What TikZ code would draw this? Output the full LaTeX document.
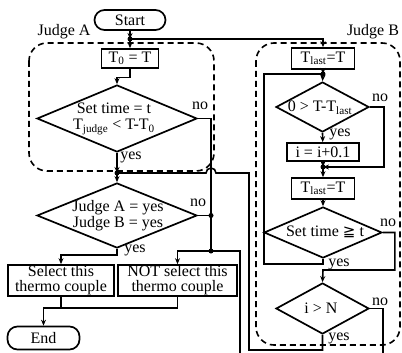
\documentclass[tikz,border=0pt]{standalone}
\usepackage{fontspec}
\setmainfont{Liberation Serif}
\newfontfamily\symfont{DejaVu Sans}
\usetikzlibrary{shapes.geometric,arrows.meta}

\begin{document}
\begin{tikzpicture}[x=1pt,y=-1pt,
  every node/.style={font=\fontsize{16}{15}\selectfont, inner sep=0pt},
  flow/.style={line width=1.6pt},
  arr/.style={flow, -{Stealth[length=6pt,width=5pt]}},
  proc/.style={draw, line width=1.7pt, fill=white},
  term/.style={draw, line width=1.7pt, rounded corners=10pt},
  dia/.style={draw, diamond, line width=1.7pt},
  grp/.style={line width=1.6pt, dash pattern=on 6pt off 4pt, rounded corners=18pt},
  jdot/.style={circle, fill=black, minimum size=5pt, inner sep=0pt},
  lbl/.style={align=center}]

\useasboundingbox (0,0) rectangle (402,353);

% group frames
\draw[grp] (29,43) rectangle (214,171);
\draw[grp] (256,43) rectangle (400,345);
\node[lbl] (labA) at (64,32) {Judge A};
\node[lbl] (labB) at (373,32) {Judge B};

% terminals and boxes
\node[term, minimum width=71, minimum height=20] (start) at (130,20) {Start};
\node[term, minimum width=72, minimum height=23] (endt) at (43.5,338) {End};
\node[proc, minimum width=57, minimum height=19] (t0) at (130,58.5) {T\textsubscript{0} = T};
\node[proc, minimum width=106, minimum height=31, align=center] (sel) at (61,280.5)
  {Select this\\thermo couple};
\node[proc, minimum width=119, minimum height=31, align=center] (notsel) at (177.5,280.5)
  {NOT select this\\thermo couple};
\node[proc, minimum width=63, minimum height=21] (tl1) at (323,58.5) {T\textsubscript{last}=T};
\node[proc, minimum width=72, minimum height=18] (incr) at (323,152) {i = i+0.1};
\node[proc, minimum width=63, minimum height=21] (tl2) at (323,188.5) {T\textsubscript{last}=T};

% decisions
\node[dia, minimum width=160, minimum height=67] (dA) at (117,118.5) {};
\node[lbl] (dAt) at (114,119) {Set time = t\\[1pt]T\textsubscript{judge} < T-T\textsubscript{0}};
\node[dia, minimum width=160, minimum height=65] (dJ) at (117,215.5) {};
\node[lbl] (dJt) at (118,216) {Judge A = yes\\[1pt]Judge B = yes};
\node[dia, minimum width=93, minimum height=50] (dB1) at (322.5,107) {};
\node[lbl] (dB1t) at (320,108) {0 > T-T\textsubscript{last}};
\node[dia, minimum width=118, minimum height=51] (dB2) at (323,232.5) {};
\node[lbl] (dB2t) at (325,232) {Set time {\symfont\fontsize{15}{15}\selectfont ≧} t};
\node[dia, minimum width=93, minimum height=51] (dB3) at (322.5,308.5) {};
\node[lbl] (dB3t) at (321,308) {i > N};

% junctions and bend points
\coordinate (jS) at (130,39);
\coordinate (jY) at (117,173);
\coordinate (jN1) at (211,215.5);
\coordinate (jN2) at (211,251);
\coordinate (jB1) at (323,74);
\coordinate (jB2) at (323,167);
\coordinate (lB) at (264,74);
\coordinate (mB) at (323,270);
\coordinate (mE) at (43.5,308);
\coordinate (lpB) at (249,350);
\coordinate (lpT) at (249,173);
\coordinate (hopR) at (216,173);
\coordinate (outA) at (240,353);
\coordinate (outB) at (383,353);

% Judge A flow
\draw[arr] (start) -- (jS);
\draw[arr] (jS) -- (t0);
\draw[arr] (jS) -| (tl1);
\draw[arr] (t0.south) -- ++(0,8.5) -| (dA.north);
\draw[flow] (dA.east) -| (jN1);
\draw[arr] (dA.south) -- (jY);
\draw[arr] (jY) -- (dJ.north);
\draw[flow] (dJ.east) -- (jN1);
\draw[flow] (jN1) -- (jN2);
\draw[arr] (jN2) -| (notsel.north);
\draw[flow] (jN2) -| (outA);
\draw[arr] (dJ.south) -- ++(0,6) -| (sel.north);
\draw[flow] (sel.south) -- (sel.south |- mE);
\draw[arr] (notsel.south) |- (mE) -- (endt.north);

% Judge B flow
\draw[arr] (tl1) -- (jB1);
\draw[arr] (jB1) -- (dB1.north);
\draw[arr] (dB1.south) -- (incr);
\draw[arr] (incr) -- (jB2);
\draw[arr] (dB1.east) -- ++(14,0) |- (jB2);
\draw[arr] (jB2) -- (tl2);
\draw[arr] (tl2) -- (dB2.north);
\draw[flow] (dB2.south) -- ++(0,5) -| (lB) -- (jB1);
\draw[arr] (dB2.east) -- ++(12,0) |- (mB) -- (dB3.north);
\draw[flow] (dB3.east) -| (outB);
\draw[flow] (dB3.south) |- (lpB) -- (lpT) -- (hopR)
  arc[start angle=0, end angle=180, radius=5pt] -- (jY);

% junction dots
\foreach \j in {jS,jY,jN1,jN2,jB1,jB2} \node[jdot] at (\j) {};

% branch labels
\node (noA) at (200,106) {no};
\node (yesA) at (131,157) {yes};
\node (noJ) at (198,203) {no};
\node (yesJ) at (135,250) {yes};
\node (noB1) at (380,98) {no};
\node (yesB1) at (340,134) {yes};
\node (noB2) at (388,223) {no};
\node (yesB2) at (339,264) {yes};
\node (noB3) at (380,302) {no};
\node (yesB3) at (339,338) {yes};
\end{tikzpicture}
\end{document}
